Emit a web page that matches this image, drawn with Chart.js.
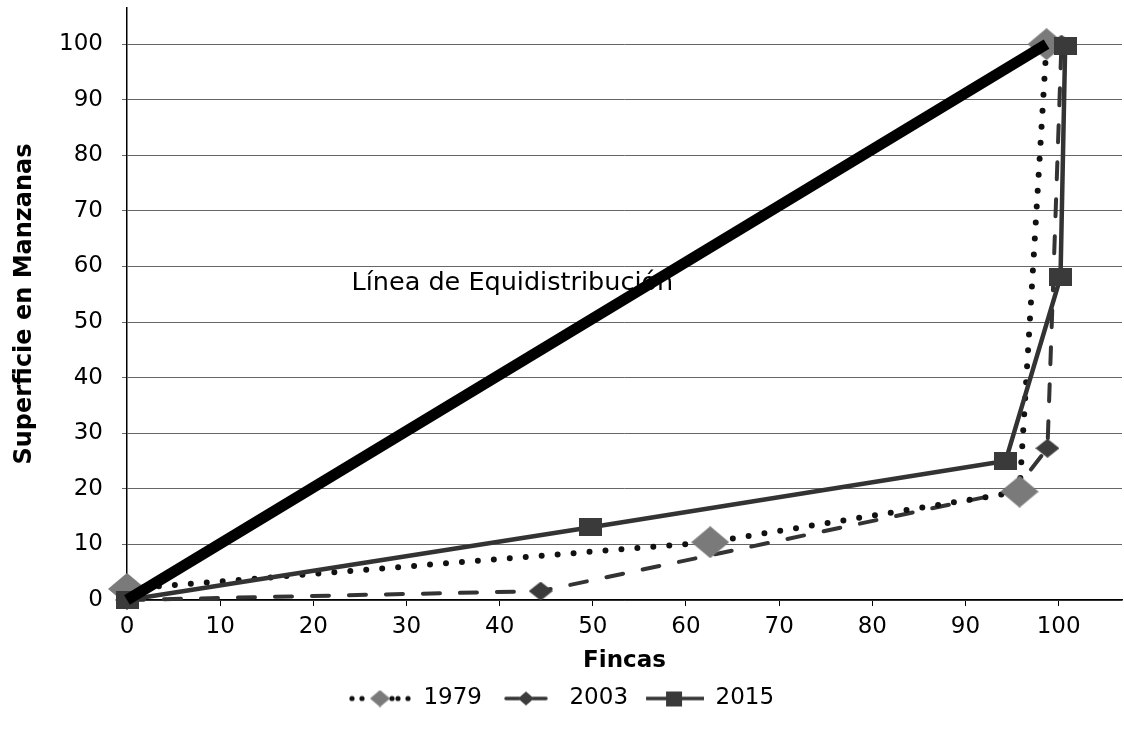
<!DOCTYPE html>
<html>
<head>
<meta charset="utf-8">
<script src="https://cdn.jsdelivr.net/npm/chart.js@4.4.1/dist/chart.umd.min.js"></script>
<style>
  html, body { margin: 0; padding: 0; background: #fff; }
  #wrap { width: 1124px; height: 729px; position: relative; }
</style>
</head>
<body>
<div id="wrap"><canvas id="c"></canvas></div>
<script>
// ---- data ----
const seriesNames = ['1979', '2003', '2015'];
const x1979 = [0, 62.6, 95.8, 98.7];
const y1979 = [2, 10.4, 19.5, 100];
const x2003 = [0, 44.4, 95.2, 98.8, 100.3];
const y2003 = [0, 1.6, 19.6, 27.3, 100];
const x2015 = [0, 49.8, 94.3, 100.2, 100.7];
const y2015 = [0, 13.1, 25, 58.1, 99.6];
const xEqui = [0, 98.7];
const yEqui = [0, 100];
const xTicks = [0, 10, 20, 30, 40, 50, 60, 70, 80, 90, 100];
const yTicks = [0, 10, 20, 30, 40, 50, 60, 70, 80, 90, 100];
const xTitle = 'Fincas';
const yTitle = 'Superficie en Manzanas';
const equiText = 'Línea de Equidistribución';
const equiTextAt = [24.1, 55.8];

const pts = (xs, ys) => xs.map((v, i) => ({ x: v, y: ys[i] }));

// ---- marker images ----
function diamond(w, h, fill) {
  const c = document.createElement('canvas');
  c.width = w; c.height = h;
  const g = c.getContext('2d');
  g.fillStyle = fill;
  g.beginPath();
  g.moveTo(w / 2, 0); g.lineTo(w, h / 2); g.lineTo(w / 2, h); g.lineTo(0, h / 2);
  g.closePath(); g.fill();
  return c;
}
function square(w, h, fill) {
  const c = document.createElement('canvas');
  c.width = w; c.height = h;
  const g = c.getContext('2d');
  g.fillStyle = fill;
  g.fillRect(0, 0, w, h);
  return c;
}
function legendSample(kind) {
  const W = 64, H = 26;
  const c = document.createElement('canvas');
  c.width = W; c.height = H;
  const g = c.getContext('2d');
  const cy = H / 2;
  if (kind === 0) {
    g.fillStyle = '#111';
    [4, 14, 50, 60].forEach(x => { g.beginPath(); g.arc(x, cy, 2.6, 0, Math.PI * 2); g.fill(); });
    g.drawImage(diamond(20, 17, '#7a7a7a'), 22, cy - 8.5);
    g.beginPath(); g.arc(44, cy, 2.6, 0, Math.PI * 2); g.fill();
  } else if (kind === 1) {
    g.strokeStyle = '#333'; g.lineWidth = 3.5; g.lineCap = 'round';
    g.beginPath(); g.moveTo(12, cy); g.lineTo(25, cy); g.moveTo(39, cy); g.lineTo(52, cy); g.stroke();
    g.drawImage(diamond(16, 14, '#3c3c3c'), 24, cy - 7);
  } else {
    g.strokeStyle = '#333'; g.lineWidth = 3.5;
    g.beginPath(); g.moveTo(6, cy); g.lineTo(64, cy); g.stroke();
    g.drawImage(square(16, 15, '#3a3a3a'), 26, cy - 7.5);
  }
  return c;
}

const mk1979 = diamond(38, 32, '#7a7a7a');
const mk2003 = diamond(24, 19, '#3c3c3c');
const mk2015 = square(23, 18, '#3a3a3a');
const samples = [legendSample(0), legendSample(1), legendSample(2)];

Chart.defaults.font.family = '"DejaVu Sans", "Liberation Sans", Arial, sans-serif';
Chart.defaults.color = '#000';

const equiLabel = {
  id: 'equiLabel',
  beforeDatasetsDraw(chart) {
    const { ctx, scales: { x, y } } = chart;
    ctx.save();
    ctx.font = '25.5px "DejaVu Sans"';
    ctx.fillStyle = '#000';
    ctx.textBaseline = 'alphabetic';
    ctx.textAlign = 'left';
    ctx.fillText(equiText, x.getPixelForValue(equiTextAt[0]), y.getPixelForValue(equiTextAt[1]));
    ctx.restore();
  }
};

function noPad(s) { s.paddingTop = 0; s.paddingBottom = 0; s.paddingLeft = 0; s.paddingRight = 0; }

new Chart(document.getElementById('c'), {
  type: 'scatter',
  data: {
    datasets: [
      {
        label: 'Equidistribución',
        data: pts(xEqui, yEqui),
        showLine: true,
        borderColor: '#000',
        borderWidth: 11,
        pointRadius: 0,
        order: 0,
        clip: false
      },
      {
        label: seriesNames[0],
        data: pts(x1979, y1979),
        showLine: true,
        borderColor: '#111',
        borderWidth: 6,
        borderDash: [0, 16],
        borderCapStyle: 'round',
        pointStyle: mk1979,
        pointRadius: 15,
        order: 2,
        clip: false
      },
      {
        label: seriesNames[1],
        data: pts(x2003, y2003),
        showLine: true,
        borderColor: '#333',
        borderWidth: 4,
        borderDash: [17, 20],
        borderCapStyle: 'round',
        pointStyle: mk2003,
        pointRadius: 10,
        order: 3,
        clip: false
      },
      {
        label: seriesNames[2],
        data: pts(x2015, y2015),
        showLine: true,
        borderColor: '#333',
        borderWidth: 4.5,
        pointStyle: mk2015,
        pointRadius: 10,
        order: 1,
        clip: false
      }
    ]
  },
  options: {
    responsive: true,
    maintainAspectRatio: false,
    animation: false,
    layout: { autoPadding: false, padding: { top: 8, right: 2, left: 0, bottom: 9 } },
    plugins: {
      tooltip: { enabled: false },
      legend: {
        position: 'bottom',
        labels: {
          usePointStyle: true,
          pointStyleWidth: 64,
          padding: 12,
          color: '#000',
          font: { size: 23 },
          generateLabels(chart) {
            return seriesNames.map((n, i) => ({
              text: n,
              pointStyle: samples[i],
              fillStyle: '#333',
              strokeStyle: '#333',
              lineWidth: 0,
              hidden: false,
              datasetIndex: i + 1,
              fontColor: '#000'
            }));
          }
        }
      }
    },
    scales: {
      x: {
        type: 'linear',
        min: 0,
        max: 106.8,
        afterBuildTicks(s) { s.ticks = xTicks.map(v => ({ value: v })); },
        afterFit(s) { s.height = 75; noPad(s); },
        grid: { drawOnChartArea: false, drawTicks: true, tickLength: 6, color: '#000', lineWidth: 1 },
        border: { display: true, color: '#000', width: 1.5 },
        ticks: { padding: 7, font: { size: 23 }, color: '#000', maxRotation: 0 },
        title: { display: true, text: xTitle, font: { size: 23, weight: 'bold' }, color: '#000', padding: { top: 0, bottom: 0 } }
      },
      y: {
        type: 'linear',
        min: 0,
        max: 106.5,
        afterBuildTicks(s) { s.ticks = yTicks.map(v => ({ value: v })); },
        afterFit(s) { s.width = 127; noPad(s); },
        grid: { drawOnChartArea: true, drawTicks: true, tickLength: 5, color: '#666', lineWidth: 1 },
        border: { display: true, color: '#000', width: 1.5 },
        ticks: { padding: 19, font: { size: 23 }, color: '#000' },
        title: { display: true, text: yTitle, font: { size: 24, weight: 'bold' }, color: '#000', padding: { top: 10, bottom: 0 } }
      }
    }
  },
  plugins: [equiLabel]
});
</script>
</body>
</html>
